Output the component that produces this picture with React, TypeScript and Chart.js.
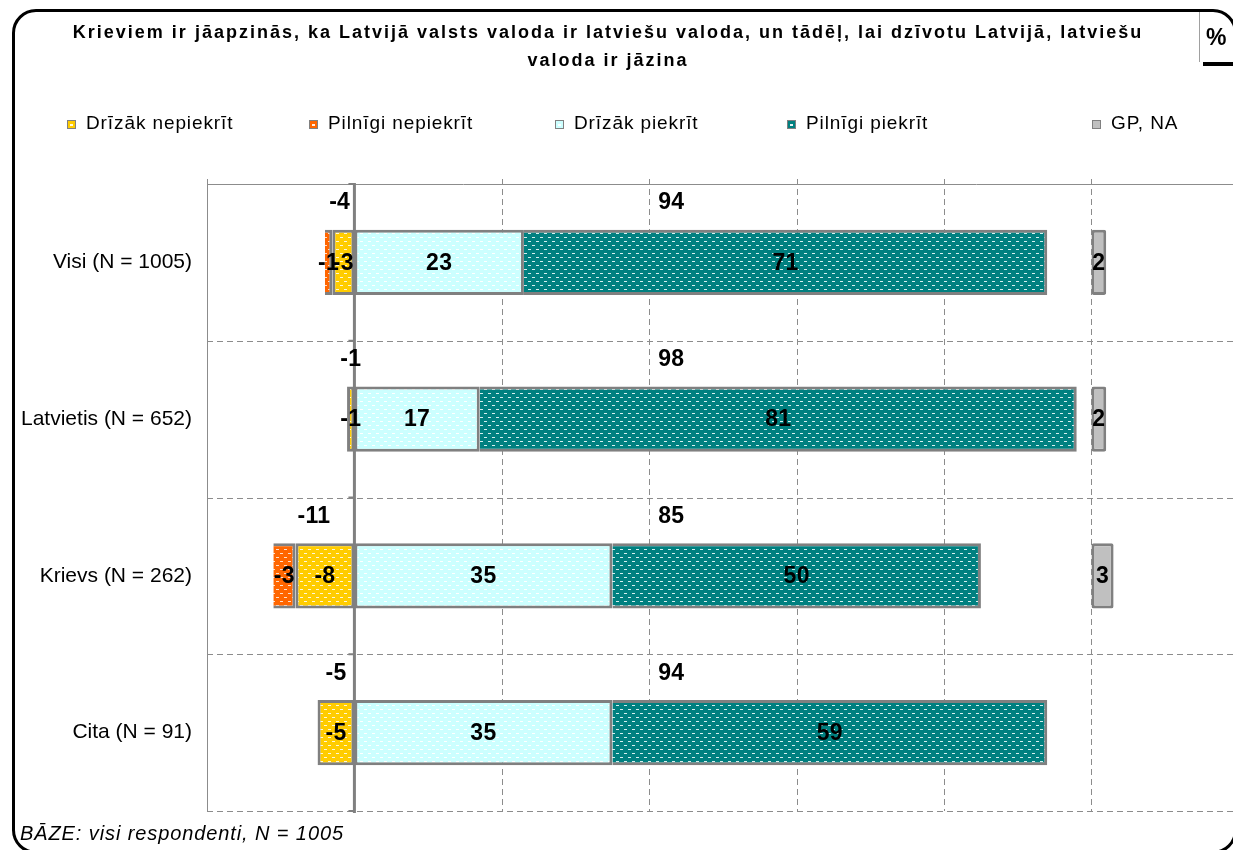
import React, { useEffect, useRef } from "react";
import { Chart, registerables } from "chart.js";

Chart.register(...registerables);

// ---------- DATA ----------
const categories = ["Visi (N = 1005)", "Latvietis (N = 652)", "Krievs (N = 262)", "Cita (N = 91)"];
const drizakNepiekrit = [3, 1, 8, 5];
const pilnigiNepiekrit = [1, 0, 3, 0];
const drizakPiekrit = [23, 17, 35, 35];
const pilnigiPiekrit = [71, 81, 50, 59];
const gpNa = [2, 2, 3, 0];
const negativeTotals = [-4, -1, -11, -5];
const positiveTotals = [94, 98, 85, 94];
const seriesNames = ["Drīzāk nepiekrīt", "Pilnīgi nepiekrīt", "Drīzāk piekrīt", "Pilnīgi piekrīt", "GP, NA"];
const gridTicks = [-20, 0, 20, 40, 60, 80, 100];
const xMin = -20;
const xMax = 119.2;
const gpStart = 100;
const positiveTotalAnchor = 43;

const titleLine1 = "Krieviem ir jāapzinās, ka Latvijā valsts valoda ir latviešu valoda, un tādēļ, lai dzīvotu Latvijā, latviešu";
const titleLine2 = "valoda ir jāzina";
const footerText = "BĀZE: visi respondenti, N = 1005";

const FONT = '"Liberation Sans", Arial, Helvetica, sans-serif';

const seriesColors = ["#FFCC00", "#FF6600", "#CCFFFF", "#008080", "#C0C0C0"];
const legendLeft = [67, 309, 555, 787, 1092];

function makePattern(base: string, dash: string | null): CanvasPattern | string {
  if (!dash) return base;
  const c = document.createElement("canvas");
  c.width = 8;
  c.height = 8;
  const g = c.getContext("2d")!;
  g.fillStyle = base;
  g.fillRect(0, 0, 8, 8);
  g.fillStyle = dash;
  g.fillRect(0, 1, 3, 1);
  g.fillRect(4, 5, 3, 1);
  const p = g.createPattern(c, "repeat");
  return p || base;
}

export default function App() {
  const canvasRef = useRef<HTMLCanvasElement | null>(null);

  useEffect(() => {
    const canvas = canvasRef.current;
    if (!canvas) return;

    const fills = [
      makePattern(seriesColors[0], "rgba(255,255,255,0.85)"),
      makePattern(seriesColors[1], "rgba(255,255,255,0.8)"),
      makePattern(seriesColors[2], "rgba(255,255,255,1)"),
      makePattern(seriesColors[3], "rgba(225,245,245,0.95)"),
      seriesColors[4],
    ];

    const segLabels: number[][] = [
      drizakNepiekrit.map((v) => -v),
      pilnigiNepiekrit.map((v) => -v),
      drizakPiekrit,
      pilnigiPiekrit,
      gpNa,
    ];

    const decor = {
      id: "decor",
      beforeDatasetsDraw(chart: any) {
        const { ctx, chartArea: a, scales } = chart;
        const x = scales.x;
        const n = categories.length;
        const bandH = (a.bottom - a.top) / n;
        const line = (x1: number, y1: number, x2: number, y2: number) => {
          ctx.beginPath();
          ctx.moveTo(x1, y1);
          ctx.lineTo(x2, y2);
          ctx.stroke();
        };
        ctx.save();
        ctx.strokeStyle = "#8c8c8c";
        ctx.lineWidth = 1;
        ctx.setLineDash([6, 4]);
        for (let i = 1; i <= n; i++) {
          const yy = Math.round(a.top + i * bandH) + 0.5;
          line(a.left, yy, a.right, yy);
        }
        for (const t of gridTicks) {
          if (t <= 0) continue;
          const xx = Math.round(x.getPixelForValue(t)) + 0.5;
          line(xx, a.top - 5, xx, a.bottom);
        }
        ctx.setLineDash([]);
        ctx.strokeStyle = "#8c8c8c";
        line(a.left, Math.round(a.top) + 0.5, a.right, Math.round(a.top) + 0.5);
        const xl = Math.round(x.getPixelForValue(gridTicks[0])) + 0.5;
        line(xl, a.top - 5, xl, a.bottom);
        ctx.restore();
      },
      afterDatasetsDraw(chart: any) {
        const { ctx, chartArea: a, scales } = chart;
        const x = scales.x;
        const n = categories.length;
        const bandH = (a.bottom - a.top) / n;
        const line = (x1: number, y1: number, x2: number, y2: number) => {
          ctx.beginPath();
          ctx.moveTo(x1, y1);
          ctx.lineTo(x2, y2);
          ctx.stroke();
        };
        ctx.save();
        // zero axis
        const x0 = x.getPixelForValue(0);
        ctx.strokeStyle = "#808080";
        ctx.lineWidth = 3;
        line(x0, a.top - 1, x0, a.bottom + 2);
        ctx.lineWidth = 2;
        for (let i = 0; i <= n; i++) {
          const yy = a.top + i * bandH;
          line(x0 - 6, yy, x0, yy);
        }
        // segment labels
        ctx.fillStyle = "#000";
        ctx.font = `bold 23px ${FONT}`;
        (ctx as any).letterSpacing = "0.3px";
        ctx.textAlign = "center";
        ctx.textBaseline = "middle";
        chart.data.datasets.forEach((ds: any, di: number) => {
          const meta = chart.getDatasetMeta(di);
          meta.data.forEach((el: any, i: number) => {
            const v = segLabels[di][i];
            if (!v || ds.data[i] == null) return;
            const cx = (el.x + el.base) / 2;
            ctx.fillText(String(v), cx, el.y + 1);
          });
        });
        // totals
        for (let i = 0; i < n; i++) {
          const ty = a.top + i * bandH + 19;
          const nx = (x.getPixelForValue(negativeTotals[i]) + x0) / 2;
          ctx.fillText(String(negativeTotals[i]), nx, ty);
          ctx.fillText(String(positiveTotals[i]), x.getPixelForValue(positiveTotalAnchor), ty);
        }
        (ctx as any).letterSpacing = "0px";
        ctx.restore();
      },
    };

    const common = {
      borderColor: "#808080",
      borderWidth: 3,
      grouped: false,
      barPercentage: 0.415,
      categoryPercentage: 1,
    };

    const chart = new Chart(canvas, {
      type: "bar",
      data: {
        labels: categories,
        datasets: [
          {
            ...common,
            label: seriesNames[0],
            data: drizakNepiekrit.map((v) => (v ? [-v, 0] : null)) as any,
            backgroundColor: fills[0] as any,
            borderSkipped: false,
          },
          {
            ...common,
            label: seriesNames[1],
            data: pilnigiNepiekrit.map((v, i) =>
              v ? [-(drizakNepiekrit[i] + v), -drizakNepiekrit[i]] : null
            ) as any,
            backgroundColor: fills[1] as any,
            borderSkipped: "right",
          },
          {
            ...common,
            label: seriesNames[2],
            data: drizakPiekrit.map((v) => [0, v]) as any,
            backgroundColor: fills[2] as any,
            borderSkipped: false,
          },
          {
            ...common,
            label: seriesNames[3],
            data: pilnigiPiekrit.map((v, i) => [drizakPiekrit[i], drizakPiekrit[i] + v]) as any,
            backgroundColor: fills[3] as any,
            borderSkipped: "left",
          },
          {
            ...common,
            label: seriesNames[4],
            data: gpNa.map((v) => (v ? [gpStart, gpStart + v] : null)) as any,
            backgroundColor: fills[4] as any,
            borderSkipped: false,
            borderRadius: 2,
          },
        ],
      },
      options: {
        indexAxis: "y",
        responsive: false,
        animation: false,
        layout: { padding: { top: 184, bottom: 39, left: 0, right: 0 } },
        plugins: {
          legend: { display: false },
          title: { display: false },
          tooltip: { enabled: false },
        },
        scales: {
          x: {
            type: "linear",
            display: false,
            min: xMin,
            max: xMax,
          },
          y: {
            type: "category",
            offset: true,
            grid: { display: false, drawTicks: false },
            border: { display: false },
            ticks: {
              color: "#000",
              padding: 15,
              font: { family: FONT, size: 21 },
            },
            afterFit: (scale: any) => {
              scale.width = 207;
            },
          },
        },
      },
      plugins: [decor],
    } as any);

    return () => chart.destroy();
  }, []);

  const wrap: React.CSSProperties = {
    position: "absolute",
    left: 0,
    top: 0,
    width: 1233,
    height: 850,
    overflow: "hidden",
    background: "#fff",
    fontFamily: FONT,
    color: "#000",
  };

  return (
    <div style={wrap}>
      <canvas
        ref={canvasRef}
        width={1233}
        height={850}
        style={{ position: "absolute", left: 0, top: 0, width: 1233, height: 850, display: "block" }}
      />
      {/* frame */}
      <div
        style={{
          position: "absolute",
          left: 12,
          top: 9,
          width: 1225,
          height: 845,
          border: "3px solid #000",
          borderRadius: 24,
          boxSizing: "border-box",
          pointerEvents: "none",
        }}
      />
      {/* title */}
      <div
        style={{
          position: "absolute",
          left: 0,
          top: 18,
          width: 1216,
          textAlign: "center",
          fontWeight: "bold",
          fontSize: 18,
          lineHeight: "28px",
          letterSpacing: "2px",
          whiteSpace: "nowrap",
        }}
      >
        {titleLine1}
        <br />
        {titleLine2}
      </div>
      {/* % box */}
      <div
        style={{
          position: "absolute",
          left: 1199,
          top: 12,
          width: 34,
          height: 50,
          borderLeft: "1px solid #a0a0a0",
          boxSizing: "border-box",
          fontWeight: "bold",
          fontSize: 23,
          lineHeight: "50px",
          paddingLeft: 6,
        }}
      >
        %
      </div>
      <div style={{ position: "absolute", left: 1203, top: 62, width: 30, height: 4, background: "#000" }} />
      {/* legend */}
      {seriesNames.map((name, i) => (
        <div
          key={name}
          style={{
            position: "absolute",
            left: legendLeft[i],
            top: 113,
            fontSize: 19,
            lineHeight: "19px",
            letterSpacing: "0.9px",
            whiteSpace: "nowrap",
          }}
        >
          <span
            style={{
              display: "inline-block",
              position: "relative",
              width: 9,
              height: 9,
              background: seriesColors[i],
              border: "1px solid #808080",
              boxSizing: "border-box",
              marginRight: 10,
              verticalAlign: "0px",
            }}
          >
            {i < 4 ? (
              <span
                style={{
                  position: "absolute",
                  left: 2,
                  top: 3,
                  width: 3,
                  height: 2,
                  background: "rgba(255,255,255,0.9)",
                }}
              />
            ) : null}
          </span>
          {name}
        </div>
      ))}
      {/* footer */}
      <div
        style={{
          position: "absolute",
          left: 20,
          top: 823,
          fontSize: 20,
          lineHeight: "20px",
          letterSpacing: "0.9px",
          fontStyle: "italic",
          whiteSpace: "nowrap",
        }}
      >
        {footerText}
      </div>
    </div>
  );
}
